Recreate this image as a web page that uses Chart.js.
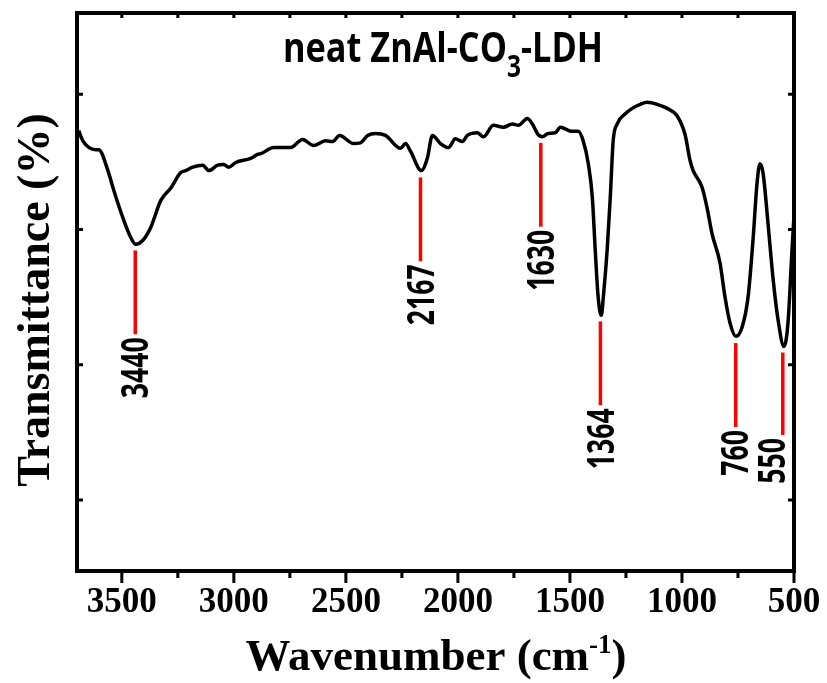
<!DOCTYPE html>
<html>
<head>
<meta charset="utf-8">
<script src="https://cdn.jsdelivr.net/npm/chart.js@4/dist/chart.umd.min.js"></script>
<style>
  html, body { margin: 0; padding: 0; background: #fff; }
  #wrap { width: 827px; height: 683px; }
</style>
</head>
<body>
<div id="wrap"><canvas id="chart" width="827" height="683"></canvas></div>
<script>
// FTIR spectrum of neat ZnAl-CO3-LDH
const wavenumbers = [
  3692, 3674, 3616, 3603, 3562, 3536, 3496, 3460, 3438, 3406, 3371, 3326, 3282, 3237,
  3215, 3184, 3139, 3112, 3072, 3045, 3023, 2992, 2925, 2894, 2880, 2822, 2747, 2693,
  2644, 2591, 2559, 2528, 2466, 2435, 2403, 2368, 2323, 2256, 2234, 2212, 2163, 2136,
  2114, 2078, 2042, 2011, 1980, 1958, 1913, 1886, 1842, 1797, 1757, 1730, 1690, 1668,
  1641, 1623, 1597, 1565, 1543, 1490, 1463, 1441, 1418, 1400, 1387, 1374, 1360, 1351,
  1334, 1320, 1307, 1289, 1253, 1222, 1186, 1155, 1111, 1066, 1022, 986, 964, 950,
  910, 888, 866, 830, 808, 785, 759, 732, 705, 683, 665, 652, 638, 616, 594, 571,
  545, 527, 509, 500
];
const transmittance = [
  74.6, 73.1, 71.8, 71.8, 68.7, 65.8, 61.8, 58.8, 57.8, 58.4, 60.3, 64.3, 66.1, 68.4,
  68.7, 69.2, 69.5, 68.7, 69.5, 69.6, 69.2, 69.9, 70.5, 71.1, 71.2, 72.1, 72.1, 73.3,
  72.4, 73.1, 73.0, 73.9, 72.7, 72.8, 73.9, 74.2, 73.9, 72.0, 72.7, 71.6, 68.7, 70.6,
  73.9, 72.7, 72.1, 73.4, 73.0, 73.9, 74.3, 73.7, 75.4, 75.1, 75.6, 75.4, 76.4, 75.6,
  74.0, 73.7, 74.2, 74.3, 75.1, 74.5, 74.5, 73.1, 69.7, 64.7, 56.9, 50.0, 47.3, 50.0,
  56.9, 64.7, 73.1, 75.6, 77.1, 77.9, 78.5, 78.8, 78.5, 77.9, 76.8, 74.0, 70.2, 68.7,
  66.2, 63.2, 59.4, 55.0, 50.0, 46.1, 44.2, 45.5, 50.0, 58.4, 66.8, 69.7, 68.3, 60.9,
  52.9, 46.6, 42.7, 46.1, 56.9, 62.0
];

const xTickValues = [3500, 3250, 3000, 2750, 2500, 2250, 2000, 1750, 1500, 1250, 1000, 750, 500];
const yTickValues = [20, 40, 60, 80];

const peakWavenumbers = [3440, 2167, 1630, 1364, 760, 550];
const peakLabels = ["3440", "2167", "1630", "1364", "760", "550"];
const peakLineTop = [56.9, 67.7, 72.8, 46.4, 43.2, 41.8];
const peakLineBottom = [44.5, 55.3, 60.4, 34.0, 30.8, 29.6];

const titleMain = "neat ZnAl-CO";
const titleSub = "3";
const titleEnd = "-LDH";
const xTitle = "Wavenumber (cm";
const xTitleSup = "-1";
const yTitle = "Transmittance (%)";

const SANS = '"Open Sans", "Liberation Sans", sans-serif';
const SERIF = '"Liberation Serif", "Times New Roman", serif';

const decorPlugin = {
  id: "decor",
  afterDraw(chart) {
    const ctx = chart.ctx;
    const area = chart.chartArea;
    const xs = chart.scales.x;
    const ys = chart.scales.y;
    ctx.save();

    // frame
    ctx.strokeStyle = "#000";
    ctx.lineWidth = 4;
    ctx.strokeRect(area.left, area.top, area.right - area.left, area.bottom - area.top);

    // x ticks: outward at bottom, small inward at top
    ctx.lineWidth = 3;
    xTickValues.forEach((v) => {
      const px = xs.getPixelForValue(v);
      const len = v % 500 === 0 ? 12 : 7;
      ctx.beginPath();
      ctx.moveTo(px, area.bottom);
      ctx.lineTo(px, area.bottom + len);
      ctx.moveTo(px, area.top);
      ctx.lineTo(px, area.top + 5);
      ctx.stroke();
    });
    // y ticks: inward on both sides
    yTickValues.forEach((v) => {
      const py = ys.getPixelForValue(v);
      ctx.beginPath();
      ctx.moveTo(area.left, py);
      ctx.lineTo(area.left + 6, py);
      ctx.moveTo(area.right, py);
      ctx.lineTo(area.right - 6, py);
      ctx.stroke();
    });

    // peak markers
    const labelNudge = [0, 0, 0, 0, -1, -11];
    const labelSize = 37;
    peakWavenumbers.forEach((w, i) => {
      const px = xs.getPixelForValue(w);
      const top = ys.getPixelForValue(peakLineTop[i]);
      const bottom = ys.getPixelForValue(peakLineBottom[i]);
      ctx.strokeStyle = "#ff0000";
      ctx.lineWidth = 3.5;
      ctx.beginPath();
      ctx.moveTo(px, top);
      ctx.lineTo(px, bottom);
      ctx.stroke();

      ctx.save();
      ctx.translate(px + labelNudge[i], bottom + 3);
      ctx.rotate(-Math.PI / 2);
      ctx.scale(0.72, 1);
      ctx.fillStyle = "#000";
      ctx.font = `bold ${labelSize}px ${SANS}`;
      ctx.textAlign = "right";
      ctx.textBaseline = "alphabetic";
      ctx.fillText(peakLabels[i], 0, labelSize * 0.714 / 2);
      ctx.restore();
    });

    // title with subscript
    ctx.fillStyle = "#000";
    ctx.textAlign = "left";
    ctx.textBaseline = "alphabetic";
    const mainFont = `bold 42px ${SANS}`;
    const subFont = `bold 30px ${SANS}`;
    ctx.font = mainFont;
    const w1 = ctx.measureText(titleMain).width;
    const w3 = ctx.measureText(titleEnd).width;
    ctx.font = subFont;
    const w2 = ctx.measureText(titleSub).width;
    const sx = 320 / (w1 + w2 + w3);
    ctx.save();
    ctx.translate(283, 62);
    ctx.scale(sx, 1);
    ctx.font = mainFont;
    ctx.fillText(titleMain, 0, 0);
    ctx.font = subFont;
    ctx.fillText(titleSub, w1, 15);
    ctx.font = mainFont;
    ctx.fillText(titleEnd, w1 + w2, 0);
    ctx.restore();

    // y axis title
    ctx.save();
    ctx.translate(37, 300);
    ctx.rotate(-Math.PI / 2);
    ctx.font = `bold 46px ${SERIF}`;
    ctx.textAlign = "center";
    ctx.textBaseline = "middle";
    ctx.fillText(yTitle, 0, 0);
    ctx.restore();

    // x axis title with superscript
    ctx.font = `bold 45px ${SERIF}`;
    const a = ctx.measureText(xTitle).width;
    const c = ctx.measureText(")").width;
    ctx.font = `bold 27px ${SERIF}`;
    const b = ctx.measureText(xTitleSup).width;
    let x0 = 436 - (a + b + c) / 2;
    ctx.textAlign = "left";
    ctx.textBaseline = "alphabetic";
    ctx.font = `bold 45px ${SERIF}`;
    ctx.fillText(xTitle, x0, 670);
    ctx.font = `bold 27px ${SERIF}`;
    ctx.fillText(xTitleSup, x0 + a, 653);
    ctx.font = `bold 45px ${SERIF}`;
    ctx.fillText(")", x0 + a + b, 670);

    ctx.restore();
  },
};

new Chart(document.getElementById("chart"), {
  type: "line",
  data: {
    datasets: [
      {
        data: wavenumbers.map((w, i) => ({ x: w, y: transmittance[i] })),
        borderColor: "#000",
        borderWidth: 3.5,
        pointRadius: 0,
        fill: false,
        cubicInterpolationMode: "monotone",
      },
    ],
  },
  options: {
    responsive: false,
    animation: false,
    layout: { padding: { top: 13, right: 33, left: 0, bottom: 0 } },
    plugins: { legend: { display: false }, tooltip: { enabled: false } },
    scales: {
      x: {
        type: "linear",
        min: 500,
        max: 3700,
        reverse: true,
        afterBuildTicks: (s) => {
          s.ticks = xTickValues.map((v) => ({ value: v }));
        },
        afterFit: (s) => {
          s.height = 112;
          s.paddingLeft = 0;
          s.paddingRight = 0;
        },
        grid: { display: false, drawTicks: false },
        border: { display: false },
        ticks: {
          autoSkip: false,
          maxRotation: 0,
          padding: 11,
          color: "#000",
          font: { family: SERIF, weight: "bold", size: 35 },
          callback: (v) => (v % 500 === 0 ? String(v) : ""),
        },
      },
      y: {
        min: 9.5,
        max: 92,
        afterBuildTicks: (s) => {
          s.ticks = yTickValues.map((v) => ({ value: v }));
        },
        afterFit: (s) => {
          s.width = 77;
          s.paddingTop = 0;
          s.paddingBottom = 0;
        },
        grid: { display: false, drawTicks: false },
        border: { display: false },
        ticks: { display: false },
      },
    },
  },
  plugins: [decorPlugin],
});
</script>
</body>
</html>
